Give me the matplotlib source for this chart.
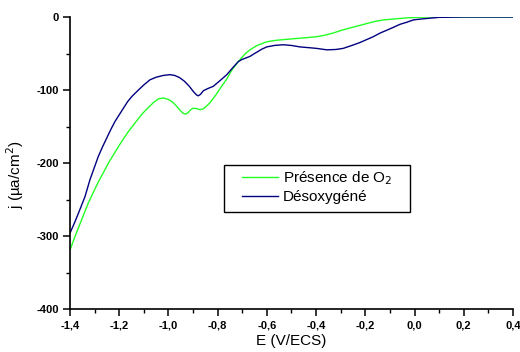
"""Voltammogram: presence of O2 vs deoxygenated solution."""

import matplotlib
matplotlib.use("Agg")
import matplotlib.pyplot as plt
from matplotlib.patches import Rectangle
from matplotlib.ticker import MultipleLocator, FuncFormatter

# Data (E in V/ECS, j in uA/cm2)
e_o2 = [-1.400, -1.380, -1.353, -1.326, -1.305, -1.285, -1.264, -1.244, -1.224,
        -1.204, -1.183, -1.163, -1.142, -1.122, -1.102, -1.082, -1.060, -1.040,
        -1.020, -1.000, -0.985, -0.970, -0.955, -0.940, -0.930, -0.920, -0.910,
        -0.900, -0.885, -0.872, -0.860, -0.845, -0.830, -0.810, -0.784, -0.763,
        -0.743, -0.716, -0.690, -0.669, -0.640, -0.601, -0.565, -0.533, -0.500,
        -0.465, -0.430, -0.398, -0.365, -0.331, -0.295, -0.262, -0.228, -0.195,
        -0.160, -0.127, -0.093, -0.059, -0.025, 0.010, 0.050, 0.100, 0.200,
        0.300, 0.400]
j_o2 = [-319, -301, -278, -255, -240, -226, -213, -200, -189,
        -178, -167, -157, -148, -139, -131, -124, -117, -112,
        -111, -113, -116, -121, -127, -132, -133, -131, -127,
        -125, -125.5, -127, -126, -122, -117, -108, -95, -85,
        -73, -61, -51, -45, -39, -34, -32, -31, -30,
        -29, -28, -27, -25, -22, -18, -15, -12, -9,
        -6, -4, -3, -2, -1, -0.5, 0, 0, 0,
        0, 0]

e_deox = [-1.400, -1.383, -1.366, -1.339, -1.319, -1.302, -1.285, -1.268, -1.251,
          -1.234, -1.217, -1.200, -1.183, -1.166, -1.149, -1.122, -1.100, -1.075,
          -1.050, -1.020, -0.994, -0.975, -0.955, -0.935, -0.915, -0.899, -0.885,
          -0.879, -0.870, -0.858, -0.840, -0.818, -0.790, -0.763, -0.740, -0.716,
          -0.700, -0.669, -0.650, -0.620, -0.601, -0.570, -0.534, -0.500, -0.465,
          -0.430, -0.398, -0.356, -0.320, -0.290, -0.255, -0.222, -0.195, -0.168,
          -0.140, -0.112, -0.085, -0.059, -0.030, -0.005, 0.020, 0.050, 0.100,
          0.200, 0.300, 0.400]
j_deox = [-296, -283, -269, -246, -223, -207, -191, -178, -166,
          -154, -143, -134, -125, -116, -109, -100, -93, -86,
          -82.5, -80, -79, -80, -83, -88, -95, -102, -107,
          -108, -106, -101, -98, -95, -87, -79, -70, -61,
          -58, -54, -50, -44, -41, -39, -38, -39, -41,
          -42, -43, -45, -44.5, -43, -39, -35, -31, -27,
          -22, -18, -14, -10, -7, -4, -3, -2, -0.5,
          0, 0, 0]

plt.rcParams["font.family"] = ["Liberation Sans", "DejaVu Sans"]

fig = plt.figure(figsize=(5.2, 3.52), dpi=100)
ax = fig.add_axes([70 / 520, 1 - 309 / 352, 443 / 520, 292 / 352])

ax.plot(e_o2, j_o2, color="#22ff22", linewidth=1.0, label="Présence de O$_2$")
ax.plot(e_deox, j_deox, color="#000080", linewidth=1.0, label="Désoxygéné")

ax.set_xlim(-1.4, 0.4)
ax.set_ylim(-400, 0)
for side in ("top", "right"):
    ax.spines[side].set_visible(False)
for side in ("left", "bottom"):
    ax.spines[side].set_linewidth(1.2)

ax.xaxis.set_major_locator(MultipleLocator(0.2))
ax.xaxis.set_minor_locator(MultipleLocator(0.1))
ax.yaxis.set_major_locator(MultipleLocator(100))
ax.yaxis.set_minor_locator(MultipleLocator(50))
ax.xaxis.set_major_formatter(FuncFormatter(lambda v, p: f"{v:.1f}".replace(".", ",").replace("-0,0", "0,0")))
ax.yaxis.set_major_formatter(FuncFormatter(lambda v, p: f"{v:.0f}"))
ax.tick_params(which="major", direction="out", length=5, width=1.1, labelsize=8, pad=3)
ax.tick_params(which="minor", direction="out", length=3, width=1.0)
for lab in ax.get_xticklabels() + ax.get_yticklabels():
    lab.set_fontweight("bold")

ax.set_xlabel("E (V/ECS)", fontsize=11, labelpad=3)
ax.set_ylabel("j (µa/cm$^2$)", fontsize=11)
ax.yaxis.set_label_coords(-0.10, 0.46)

# legend box drawn separately (wider side padding than matplotlib's legend)
ax.add_patch(Rectangle((0.3476, 0.3322), 0.4199, 0.161, transform=ax.transAxes,
                       facecolor="white", edgecolor="black", linewidth=1.0, zorder=4))
leg = ax.legend(loc="upper left", bbox_to_anchor=(0.388, 0.478), fontsize=11,
                frameon=False, handlelength=2.35, handletextpad=0.33,
                borderpad=0, labelspacing=0.2, borderaxespad=0)
leg.set_zorder(5)

fig.savefig("out.png")
